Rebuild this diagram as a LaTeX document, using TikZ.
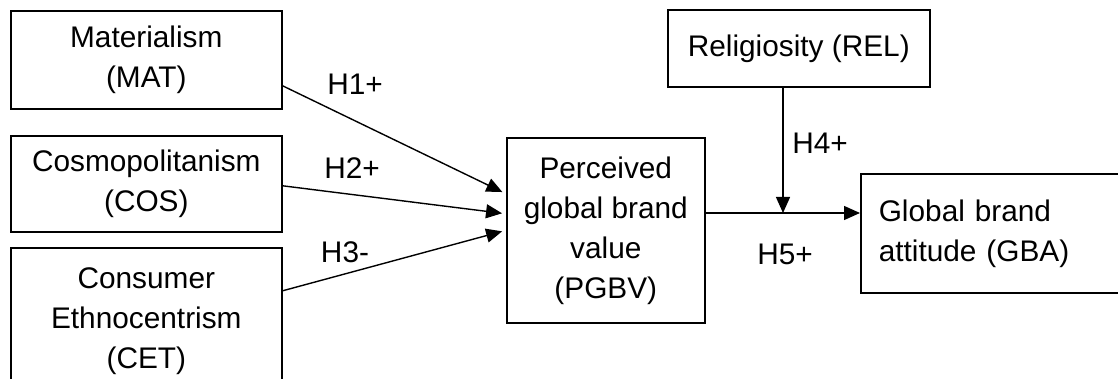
\documentclass[tikz,border=0pt]{standalone}
\usepackage{fontspec}
\setmainfont{Liberation Sans}
\usetikzlibrary{positioning,arrows.meta}

\begin{document}
\begin{tikzpicture}[x=1pt,y=-1pt,
  every node/.style={font=\fontsize{29.8}{40}\selectfont},
  var/.style={draw,line width=1.6pt,anchor=north west,align=center,inner sep=0pt},
  hyp/.style={inner sep=0pt},
  link/.style={line width=1.4pt,-{Triangle[length=16pt,width=14pt]}}
]
\clip (0,0) rectangle (1118,379);
\node[var,minimum width=271pt,minimum height=98pt] (mat) at (10,10) {Materialism\\(MAT)};
\node[var,minimum width=271pt,minimum height=96pt] (cos) at (10,135) {Cosmopolitanism\\(COS)};
\node[var,minimum width=271pt,minimum height=146pt] (cet) at (10,247) {Consumer\\Ethnocentrism\\(CET)};
\node[var,minimum width=198pt,minimum height=185pt] (pgbv) at (506,137) {Perceived\\global brand\\value\\(PGBV)};
\node[var,minimum width=262pt,minimum height=77pt] (rel) at (667,9) {Religiosity (REL)};
\node[var,align=left,text width=264pt,inner xsep=18pt,minimum height=119pt] (gba) at (860,173) {Global brand\\attitude (GBA)};
\coordinate (join) at (783,213);

\draw[link,shorten >=4pt] ([yshift=-26pt]mat.east) -- ([yshift=36.5pt]pgbv.west);
\draw[link,shorten >=4pt] ([yshift=-2pt]cos.east) -- ([yshift=16.5pt]pgbv.west);
\draw[link,shorten >=4pt] ([yshift=30pt]cet.east) -- (pgbv.west);
\draw[link] (rel.south -| join) -- (join);
\draw[link] (pgbv.east |- join) -- (gba.west |- join);

\node[hyp] (h1) at (355,84) {H1+};
\node[hyp] (h2) at (352,168) {H2+};
\node[hyp] (h3) at (345,252) {H3-};
\node[hyp] (h4) at (820,143) {H4+};
\node[hyp] (h5) at (785,254) {H5+};
\end{tikzpicture}
\end{document}
